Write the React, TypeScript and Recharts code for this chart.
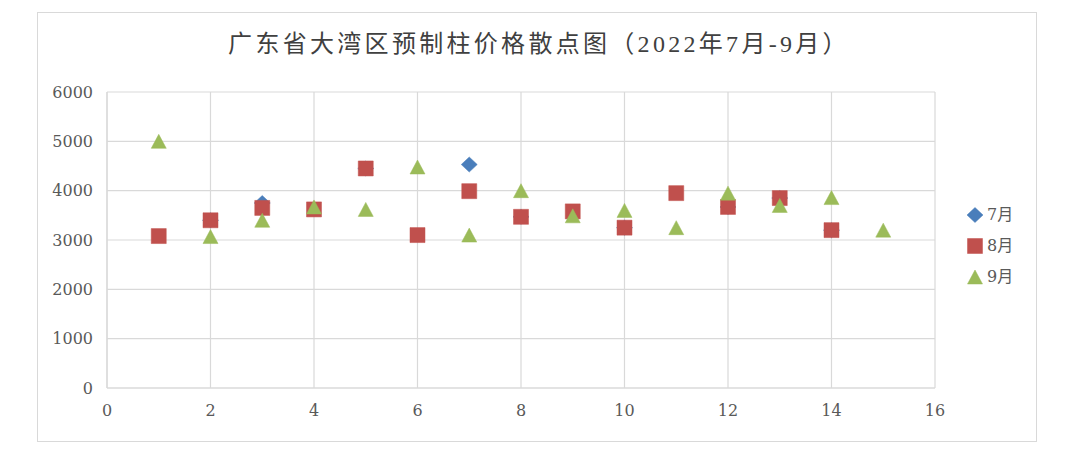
import React from 'react';
import { ScatterChart, Scatter, XAxis, YAxis, CartesianGrid, Legend } from 'recharts';

const titleText = '广东省大湾区预制柱价格散点图（2022年7月-9月）';
const seriesNames = ['7月', '8月', '9月'];
const seriesColors = ['#4a7ebb', '#c0504d', '#9bbb59'];

const xTicks = [0, 2, 4, 6, 8, 10, 12, 14, 16];
const yTicks = [0, 1000, 2000, 3000, 4000, 5000, 6000];

const julyX = [2, 3, 5, 7, 8, 10, 12, 13, 14];
const julyY = [3400, 3750, 4450, 4530, 3470, 3250, 3670, 3850, 3200];

const augX = [1, 2, 3, 4, 5, 6, 7, 8, 9, 10, 11, 12, 13, 14];
const augY = [3080, 3400, 3650, 3620, 4450, 3100, 3990, 3470, 3580, 3250, 3950, 3670, 3850, 3200];

const sepX = [1, 2, 3, 4, 5, 6, 7, 8, 9, 10, 11, 12, 13, 14, 15];
const sepY = [5000, 3070, 3400, 3670, 3620, 4480, 3100, 4000, 3490, 3600, 3250, 3950, 3700, 3860, 3200];

const toPoints = (xs: number[], ys: number[]) => xs.map((x, i) => ({ x, y: ys[i] }));

const julyData = toPoints(julyX, julyY);
const augData = toPoints(augX, augY);
const sepData = toPoints(sepX, sepY);

const diamondPath = (cx: number, cy: number) =>
  `M${cx},${cy - 7.5}L${cx + 8},${cy}L${cx},${cy + 7.5}L${cx - 8},${cy}Z`;
const squarePath = (cx: number, cy: number) =>
  `M${cx - 7.5},${cy - 7.5}L${cx + 7.5},${cy - 7.5}L${cx + 7.5},${cy + 7.5}L${cx - 7.5},${cy + 7.5}Z`;
const trianglePath = (cx: number, cy: number) =>
  `M${cx},${cy - 7}L${cx + 7.5},${cy + 7}L${cx - 7.5},${cy + 7}Z`;

const pathFns = [diamondPath, squarePath, trianglePath];

const makeShape = (idx: number) => (props: any) => {
  const { cx, cy } = props;
  if (cx == null || cy == null) return <g />;
  return <path d={pathFns[idx](cx, cy)} fill={seriesColors[idx]} stroke={seriesColors[idx]} strokeWidth={0.5} />;
};

const tickStyle = { fill: '#595959', fontSize: 16, fontFamily: "'DejaVu Serif', serif" };

const LegendContent = () => (
  <div style={{ width: 80, height: 93 }}>
    {seriesNames.map((name, i) => (
      <div key={name} style={{ height: 31, display: 'flex', alignItems: 'center' }}>
        <svg width={16} height={16} style={{ display: 'block' }}>
          <path d={pathFns[i](8, 8)} fill={seriesColors[i]} stroke={seriesColors[i]} strokeWidth={0.5} />
        </svg>
        <span
          style={{
            marginLeft: 4,
            color: '#595959',
            fontSize: 16,
            fontFamily: "'DejaVu Serif', 'Noto Sans CJK SC', serif",
            lineHeight: '16px',
          }}
        >
          {name}
        </span>
      </div>
    ))}
  </div>
);

export default function App() {
  return (
    <div style={{ position: 'relative', width: 1064, height: 440 }}>
      <div
        style={{
          position: 'absolute',
          left: 29,
          top: 4,
          width: 1000,
          height: 430,
          border: '1px solid #d9d9d9',
          boxSizing: 'border-box',
        }}
      />
      <div
        style={{
          position: 'absolute',
          left: 0,
          width: 1062,
          top: 20,
          textAlign: 'center',
          fontSize: 24,
          letterSpacing: 3.3,
          color: '#404040',
          fontFamily: "'Liberation Serif', 'Noto Sans CJK SC', serif",
          lineHeight: '32px',
        }}
      >
        {titleText}
      </div>
      <ScatterChart width={1064} height={440} margin={{ top: 84, right: 57, bottom: 30, left: 0 }}>
        <CartesianGrid stroke="#d9d9d9" strokeWidth={1.2} />
        <XAxis
          type="number"
          dataKey="x"
          domain={[0, 16]}
          ticks={xTicks}
          interval={0}
          height={30}
          tickSize={0}
          tickMargin={17}
          tickLine={false}
          axisLine={{ stroke: '#d9d9d9', strokeWidth: 1.2 }}
          tick={tickStyle}
        />
        <YAxis
          type="number"
          dataKey="y"
          domain={[0, 6000]}
          ticks={yTicks}
          interval={0}
          width={99}
          tickSize={0}
          tickMargin={14}
          tickLine={false}
          axisLine={{ stroke: '#d9d9d9', strokeWidth: 1.2 }}
          tick={tickStyle}
        />
        <Legend
          layout="vertical"
          align="right"
          verticalAlign="middle"
          width={80}
          height={93}
          content={<LegendContent />}
          wrapperStyle={{ position: 'absolute', left: 959, top: 191, width: 80, height: 93 }}
        />
        <Scatter name={seriesNames[0]} data={julyData} fill={seriesColors[0]} shape={makeShape(0)} isAnimationActive={false} />
        <Scatter name={seriesNames[1]} data={augData} fill={seriesColors[1]} shape={makeShape(1)} isAnimationActive={false} />
        <Scatter name={seriesNames[2]} data={sepData} fill={seriesColors[2]} shape={makeShape(2)} isAnimationActive={false} />
      </ScatterChart>
    </div>
  );
}
